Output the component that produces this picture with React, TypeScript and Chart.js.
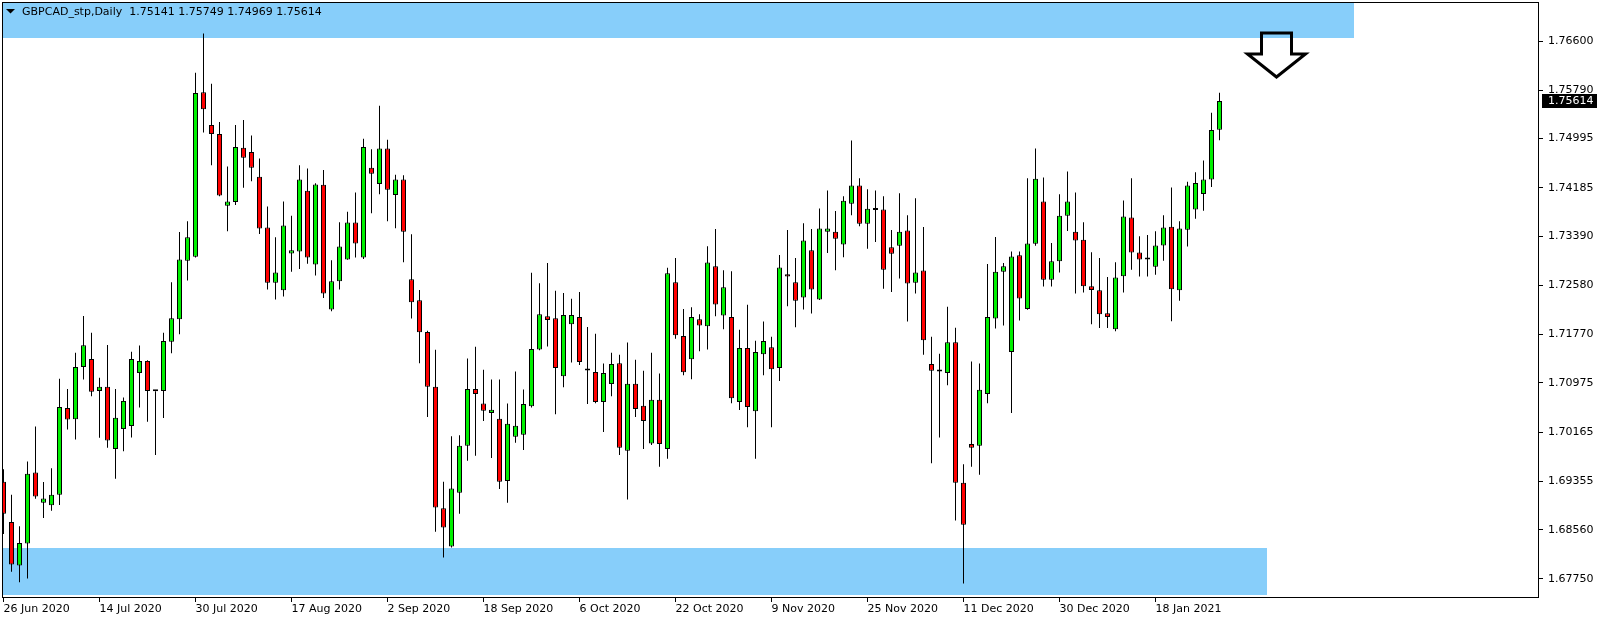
import React, { useEffect, useRef } from 'react';
import { Chart, registerables } from 'chart.js';

Chart.register(...registerables);

// ---- data ----
const symbolTitle = 'GBPCAD_stp,Daily';

const opens = [
  1.69351, 1.68686, 1.67971, 1.68335, 1.69501, 1.69006, 1.68962, 1.69137, 1.70561, 1.70379,
  1.71238, 1.71369, 1.70843, 1.70912, 1.69890, 1.70216, 1.70266, 1.71137, 1.71338, 1.70837,
  1.70843, 1.71652, 1.72022, 1.72987, 1.73050, 1.75758, 1.75219, 1.75069, 1.73890, 1.73953,
  1.74843, 1.74774, 1.74367, 1.73533, 1.72623, 1.72498, 1.73106, 1.73138, 1.74135, 1.72924,
  1.74235, 1.72185, 1.72649, 1.73006, 1.73614, 1.73037, 1.74517, 1.74247, 1.74831, 1.74066,
  1.74323, 1.72680, 1.72335, 1.71815, 1.70912, 1.68912, 1.68285, 1.69169, 1.69940, 1.70874,
  1.70636, 1.70479, 1.70385, 1.69363, 1.70090, 1.70122, 1.70592, 1.71526, 1.72072, 1.72040,
  1.71087, 1.71940, 1.72059, 1.71181, 1.71156, 1.70661, 1.70956, 1.71300, 1.69859, 1.70962,
  1.70598, 1.69978, 1.70699, 1.69890, 1.72630, 1.71746, 1.71363, 1.72022, 1.71909, 1.72893,
  1.72084, 1.72059, 1.70661, 1.71551, 1.70510, 1.71445, 1.71564, 1.71219, 1.72761, 1.72630,
  1.72379, 1.73156, 1.72348, 1.73464, 1.73464, 1.73251, 1.73921, 1.74222, 1.73595, 1.73821,
  1.73827, 1.73207, 1.73232, 1.73482, 1.72623, 1.72824, 1.71288, 1.71163, 1.71137, 1.71645,
  1.69332, 1.69971, 1.69940, 1.70793, 1.72034, 1.72805, 1.71482, 1.73075, 1.72191, 1.73263,
  1.73959, 1.72674, 1.72975, 1.73727, 1.73464, 1.73332, 1.72567, 1.72498, 1.72122, 1.71859,
  1.72730, 1.73696, 1.73119, 1.73006, 1.72887, 1.73238, 1.73545, 1.72498, 1.73495, 1.73827,
  1.74084, 1.74323, 1.75141,
];

const highs = [
  1.69557, 1.69137, 1.68617, 1.69683, 1.70260, 1.69344, 1.69570, 1.71043, 1.70874, 1.71470,
  1.72078, 1.71802, 1.71062, 1.71601, 1.70874, 1.70736, 1.71489, 1.71589, 1.71350, 1.70840,
  1.71802, 1.72630, 1.73457, 1.73633, 1.76078, 1.76724, 1.75896, 1.75269, 1.74536, 1.75219,
  1.75301, 1.75044, 1.74667, 1.73877, 1.73370, 1.73959, 1.73727, 1.74555, 1.74504, 1.74260,
  1.74479, 1.72993, 1.73620, 1.73790, 1.74109, 1.74994, 1.74818, 1.75533, 1.74975, 1.74398,
  1.74392, 1.73420, 1.72504, 1.71834, 1.71520, 1.69351, 1.70097, 1.70115, 1.71376, 1.71570,
  1.71194, 1.71031, 1.71031, 1.70636, 1.71163, 1.70868, 1.72786, 1.72617, 1.72950, 1.72492,
  1.72454, 1.72360, 1.72473, 1.71896, 1.71783, 1.71294, 1.71470, 1.71439, 1.71639, 1.71357,
  1.71175, 1.71470, 1.71131, 1.72868, 1.73031, 1.72191, 1.72222, 1.72103, 1.73225, 1.73508,
  1.72830, 1.72812, 1.71852, 1.72260, 1.71670, 1.71984, 1.71733, 1.73081, 1.73489, 1.73031,
  1.73602, 1.73508, 1.73846, 1.74141, 1.73802, 1.74047, 1.74962, 1.74341, 1.74160, 1.74141,
  1.74047, 1.73489, 1.74097, 1.73733, 1.74015, 1.73539, 1.71733, 1.71457, 1.72229, 1.71884,
  1.69639, 1.71326, 1.71294, 1.72931, 1.73376, 1.72950, 1.73138, 1.73138, 1.74341, 1.74831,
  1.74354, 1.73276, 1.74078, 1.74454, 1.74109, 1.73620, 1.73125, 1.73031, 1.72718, 1.72962,
  1.73978, 1.74341, 1.73388, 1.73407, 1.73470, 1.73733, 1.74191, 1.73633, 1.74285, 1.74442,
  1.74636, 1.75420, 1.75749,
];

const lows = [
  1.68492, 1.67871, 1.67695, 1.67758, 1.69068, 1.68755, 1.68874, 1.68968, 1.70210, 1.70046,
  1.71031, 1.70755, 1.70072, 1.69909, 1.69401, 1.69852, 1.70078, 1.70573, 1.70335, 1.69789,
  1.70398, 1.71464, 1.71777, 1.72661, 1.73037, 1.75094, 1.74555, 1.74047, 1.73470, 1.73903,
  1.74185, 1.74291, 1.73426, 1.72511, 1.72348, 1.72398, 1.72805, 1.72849, 1.72937, 1.72743,
  1.72373, 1.72153, 1.72511, 1.73000, 1.73037, 1.73012, 1.73765, 1.74078, 1.73633, 1.73520,
  1.72962, 1.72034, 1.71300, 1.70416, 1.68529, 1.68103, 1.68266, 1.68824, 1.69695, 1.69777,
  1.70347, 1.69739, 1.69231, 1.69006, 1.69990, 1.69871, 1.70573, 1.71514, 1.71576, 1.70460,
  1.70906, 1.71313, 1.71269, 1.70630, 1.70642, 1.70166, 1.70755, 1.69789, 1.69056, 1.70416,
  1.69890, 1.69953, 1.69595, 1.69727, 1.71702, 1.71100, 1.71037, 1.71495, 1.71526, 1.72072,
  1.71859, 1.70642, 1.70529, 1.70247, 1.69727, 1.71100, 1.70247, 1.71006, 1.72235, 1.71890,
  1.72185, 1.72116, 1.72340, 1.73113, 1.72830, 1.73044, 1.73733, 1.73551, 1.73182, 1.73294,
  1.72523, 1.72473, 1.72692, 1.71984, 1.72448, 1.71439, 1.69652, 1.70078, 1.70937, 1.68711,
  1.67676, 1.69595, 1.69463, 1.70642, 1.71871, 1.71921, 1.70479, 1.72003, 1.72180, 1.73232,
  1.72561, 1.72561, 1.72793, 1.73476, 1.72448, 1.72461, 1.71940, 1.71877, 1.71877, 1.71827,
  1.72461, 1.72837, 1.72724, 1.72724, 1.72755, 1.72987, 1.71990, 1.72329, 1.73219, 1.73677,
  1.73809, 1.74197, 1.74969,
];

const closes = [
  1.68824, 1.67990, 1.68341, 1.69482, 1.69106, 1.69075, 1.69137, 1.70579, 1.70373, 1.71238,
  1.71595, 1.70830, 1.70912, 1.70028, 1.70404, 1.70680, 1.71369, 1.71338, 1.70843, 1.70837,
  1.71664, 1.72040, 1.73006, 1.73370, 1.75746, 1.75476, 1.75069, 1.74060, 1.73959, 1.74856,
  1.74680, 1.74517, 1.73514, 1.72623, 1.72793, 1.73564, 1.73156, 1.74323, 1.73037, 1.74241,
  1.72448, 1.72649, 1.73219, 1.73614, 1.73269, 1.74856, 1.74417, 1.74831, 1.74153, 1.74323,
  1.73464, 1.72304, 1.71808, 1.70912, 1.68924, 1.68598, 1.69238, 1.69940, 1.70874, 1.70793,
  1.70517, 1.70536, 1.69351, 1.70304, 1.70272, 1.70630, 1.71532, 1.72103, 1.72009, 1.71219,
  1.72091, 1.72091, 1.71319, 1.71181, 1.70661, 1.71137, 1.71288, 1.69909, 1.70962, 1.70548,
  1.70347, 1.70699, 1.69971, 1.72780, 1.71758, 1.71150, 1.72059, 1.71921, 1.72956, 1.72266,
  1.72548, 1.70724, 1.71551, 1.70579, 1.71482, 1.71664, 1.71200, 1.72874, 1.72724, 1.72329,
  1.73319, 1.72511, 1.73514, 1.73514, 1.73345, 1.73972, 1.74222, 1.73595, 1.73840, 1.73821,
  1.72837, 1.73100, 1.73464, 1.72611, 1.72793, 1.71677, 1.71175, 1.71163, 1.71645, 1.69332,
  1.68642, 1.69909, 1.70862, 1.72059, 1.72805, 1.72893, 1.73056, 1.72366, 1.73269, 1.74335,
  1.72674, 1.72975, 1.73727, 1.73959, 1.73319, 1.72567, 1.72504, 1.72103, 1.72059, 1.72711,
  1.73715, 1.73119, 1.73006, 1.73037, 1.73238, 1.73533, 1.72517, 1.73514, 1.74222, 1.74266,
  1.74323, 1.75138, 1.75614,
];

const dateTickIndex = [0, 12, 24, 36, 48, 60, 72, 84, 96, 108, 120, 132, 144];
const dateTickLabels = [
  '26 Jun 2020', '14 Jul 2020', '30 Jul 2020', '17 Aug 2020', '2 Sep 2020', '18 Sep 2020',
  '6 Oct 2020', '22 Oct 2020', '9 Nov 2020', '25 Nov 2020', '11 Dec 2020', '30 Dec 2020', '18 Jan 2021',
];
const priceTicks = [
  1.766, 1.7579, 1.74995, 1.74185, 1.7339, 1.7258, 1.7177, 1.70975, 1.70165, 1.69355, 1.6856, 1.6775,
];

// zones (price range and the bar index where they end)
const supplyZone = [1.76649, 1.7726];
const supplyZoneEnd = 168.75;
const demandZone = [1.67489, 1.6826];
const demandZoneEnd = 157.9;
// arrow annotation (bar index, price of top, neck and tip)
const arrowIndex = 159;
const arrowTop = 1.76732;
const arrowTip = 1.76008;
const arrowNeck = 1.76386;

const yAxisMin = 1.674373;
const yAxisMax = 1.772416;
const xAxisMin = -0.1875;
const xAxisMax = 191.9375;

const GREEN = '#00F000';
const RED = '#FF0000';
const ZONE = '#87CEFA';
const FONT = "'DejaVu Sans', sans-serif";

export default function App() {
  const ref = useRef<HTMLCanvasElement>(null);

  useEffect(() => {
    document.body.style.margin = '0';
    const canvas = ref.current;
    if (!canvas) return;
    Chart.defaults.font.family = FONT;
    Chart.defaults.font.size = 11;
    Chart.defaults.color = '#000';

    const idx = opens.map((_, i) => i);
    const wickData = idx.map((i) => ({ x: i, y: [lows[i], highs[i]] }));
    const bodyData = idx.map((i) => ({ x: i, y: [opens[i], closes[i]] }));
    const bodyColors = idx.map((i) =>
      closes[i] > opens[i] ? GREEN : closes[i] < opens[i] ? RED : '#000'
    );

    const overlay = {
      id: 'mtOverlay',
      beforeDatasetsDraw(chart: any) {
        const { ctx, chartArea: a, scales } = chart;
        const xs = scales.x;
        const ys = scales.y;
        ctx.save();
        ctx.beginPath();
        ctx.rect(a.left, a.top, a.right - a.left, a.bottom - a.top);
        ctx.clip();
        ctx.fillStyle = ZONE;
        const zones = [
          { r: supplyZone, end: supplyZoneEnd },
          { r: demandZone, end: demandZoneEnd },
        ];
        zones.forEach((z) => {
          const x0 = a.left + 1;
          const x1 = Math.round(xs.getPixelForValue(z.end));
          const y0 = Math.round(ys.getPixelForValue(z.r[1]));
          const y1 = Math.round(ys.getPixelForValue(z.r[0]));
          ctx.fillRect(x0, y0, x1 - x0, y1 - y0);
        });
        ctx.restore();
      },
      afterDraw(chart: any) {
        const { ctx, chartArea: a, scales } = chart;
        const xs = scales.x;
        const ys = scales.y;
        const n = opens.length;
        ctx.save();
        // frame
        ctx.strokeStyle = '#000';
        ctx.lineWidth = 1;
        ctx.strokeRect(a.left + 0.5, a.top + 0.5, a.right - a.left - 1, a.bottom - a.top - 1);

        // title
        ctx.fillStyle = '#000';
        ctx.beginPath();
        ctx.moveTo(a.left + 4, a.top + 7);
        ctx.lineTo(a.left + 13, a.top + 7);
        ctx.lineTo(a.left + 8.5, a.top + 11.5);
        ctx.closePath();
        ctx.fill();
        ctx.font = `11px ${FONT}`;
        ctx.textBaseline = 'middle';
        ctx.textAlign = 'left';
        const t = `${symbolTitle}  ${opens[n - 1].toFixed(5)} ${highs[n - 1].toFixed(5)} ${lows[n - 1].toFixed(5)} ${closes[n - 1].toFixed(5)}`;
        ctx.fillText(t, a.left + 20, a.top + 10);

        // arrow
        const cx = Math.round(xs.getPixelForValue(arrowIndex)) + 0.5;
        const yt = ys.getPixelForValue(arrowTop);
        const yn = ys.getPixelForValue(arrowNeck);
        const yp = ys.getPixelForValue(arrowTip);
        ctx.lineWidth = 3;
        ctx.lineJoin = 'miter';
        ctx.beginPath();
        ctx.moveTo(cx - 15, yt);
        ctx.lineTo(cx + 15, yt);
        ctx.lineTo(cx + 15, yn);
        ctx.lineTo(cx + 29, yn);
        ctx.lineTo(cx, yp);
        ctx.lineTo(cx - 29, yn);
        ctx.lineTo(cx - 15, yn);
        ctx.closePath();
        ctx.stroke();

        // last price label
        const py = Math.round(ys.getPixelForValue(closes[n - 1]));
        ctx.fillStyle = '#000';
        ctx.fillRect(a.right + 3, py - 7, 55, 14);
        ctx.fillStyle = '#fff';
        ctx.font = `11px ${FONT}`;
        ctx.textBaseline = 'middle';
        ctx.fillText(closes[n - 1].toFixed(5), a.right + 9, py + 0.5);
        ctx.restore();
      },
    };

    const chart = new Chart(canvas, {
      type: 'bar',
      data: {
        datasets: [
          {
            label: 'wick',
            data: wickData as any,
            backgroundColor: '#000',
            borderWidth: 0,
            maxBarThickness: 1,
            barPercentage: 1,
            categoryPercentage: 1,
            grouped: false,
            inflateAmount: 0,
            order: 2,
          } as any,
          {
            label: 'body',
            data: bodyData as any,
            backgroundColor: bodyColors,
            borderColor: '#000',
            borderWidth: 1,
            borderSkipped: false,
            minBarLength: 2,
            maxBarThickness: 5,
            barPercentage: 1,
            categoryPercentage: 1,
            grouped: false,
            inflateAmount: 0,
            order: 1,
          } as any,
        ],
      },
      options: {
        animation: false,
        responsive: false,
        devicePixelRatio: 1,
        layout: { padding: { left: 2, top: 2, right: 0, bottom: 0 } },
        plugins: {
          legend: { display: false },
          tooltip: { enabled: false },
          title: { display: false },
        },
        scales: {
          x: {
            type: 'linear',
            position: 'bottom',
            offset: false,
            min: xAxisMin,
            max: xAxisMax,
            bounds: 'data',
            afterBuildTicks: (s: any) => {
              s.ticks = dateTickIndex.map((v) => ({ value: v }));
            },
            afterFit: (s: any) => {
              s.height = 24;
              s.paddingLeft = 0;
              s.paddingRight = 0;
            },
            ticks: {
              autoSkip: false,
              maxRotation: 0,
              minRotation: 0,
              align: 'start',
              padding: 1,
              color: '#000',
              font: { family: FONT, size: 11 },
              callback: (v: any) => {
                const k = dateTickIndex.indexOf(Number(v));
                return k >= 0 ? dateTickLabels[k] : '';
              },
            },
            grid: {
              display: true,
              offset: false,
              drawOnChartArea: false,
              drawTicks: true,
              tickLength: 4,
              color: '#000',
            },
            border: { display: false },
          },
          y: {
            type: 'linear',
            position: 'right',
            min: yAxisMin,
            max: yAxisMax,
            bounds: 'data',
            afterBuildTicks: (s: any) => {
              s.ticks = priceTicks.map((v) => ({ value: v }));
            },
            afterFit: (s: any) => {
              s.width = 65;
              s.paddingTop = 0;
              s.paddingBottom = 0;
            },
            ticks: {
              padding: 5,
              color: '#000',
              font: { family: FONT, size: 11 },
              callback: (v: any) => Number(v).toFixed(5),
            },
            grid: { display: true, drawOnChartArea: false, drawTicks: true, tickLength: 4, color: '#000' },
            border: { display: false },
          },
        },
      } as any,
      plugins: [overlay],
    });

    return () => chart.destroy();
  }, []);

  return (
    <div style={{ position: 'absolute', left: 0, top: 0, width: 1604, height: 622, background: '#fff' }}>
      <canvas ref={ref} width={1604} height={622} style={{ display: 'block', width: 1604, height: 622 }} />
    </div>
  );
}
